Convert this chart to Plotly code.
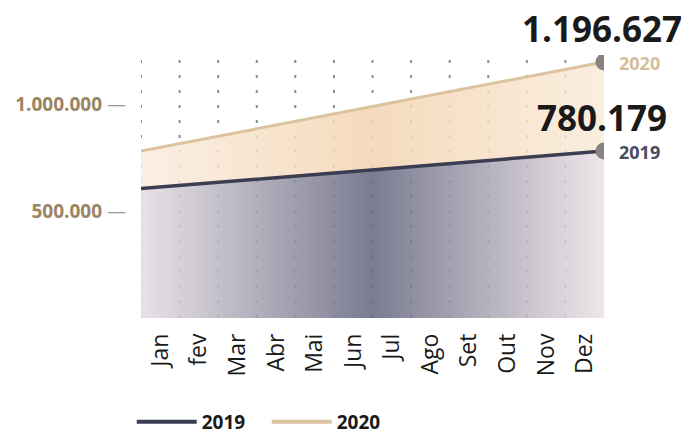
import plotly.graph_objects as go

# Meses (faixas do eixo horizontal)
months = ["Jan", "fev", "Mar", "Abr", "Mai", "Jun", "Jul", "Ago", "Set", "Out", "Nov", "Dez"]

# Valores no início de Jan e no fim de Dez
values_2019 = [605000, 780179]
values_2020 = [780179, 1196627]
years = ["2019", "2020"]

# Marcas do eixo vertical
y_ticks = [500000, 1000000]


def fmt(v):
    return f"{v:,}".replace(",", ".")


n = len(months)
x_pts = [0, n]
y_max = 1229000

NAVY = "#3b3d52"
BEIGE = "#dcc3a0"
BROWN = "#9b8464"
DOT = "#8a8280"

fig = go.Figure()

fig.add_trace(go.Scatter(
    x=x_pts, y=values_2019, name=years[0], mode="lines",
    line=dict(color=NAVY, width=3.5),
    fill="tozeroy", showlegend=False,
    fillgradient=dict(
        type="horizontal",
        colorscale=[[0, "rgba(228,220,226,0.85)"], [0.5, "rgba(104,106,130,0.88)"],
                    [1, "rgba(236,226,230,0.85)"]],
    ),
))

fig.add_trace(go.Scatter(
    x=x_pts, y=values_2020, name=years[1], mode="lines",
    line=dict(color=BEIGE, width=3),
    fill="tonexty", showlegend=False,
    fillgradient=dict(
        type="horizontal",
        colorscale=[[0, "rgba(250,236,222,0.82)"], [0.5, "rgba(243,212,176,0.85)"],
                    [1, "rgba(249,234,216,0.82)"]],
    ),
))

# Pontos finais (Dez)
fig.add_trace(go.Scatter(
    x=[x_pts[-1], x_pts[-1]], y=[values_2019[-1], values_2020[-1]],
    mode="markers", marker=dict(color=DOT, size=17), showlegend=False,
    hoverinfo="skip",
))

# Entradas de legenda só com a linha
for yr, col in [(years[0], NAVY), (years[1], BEIGE)]:
    fig.add_trace(go.Scatter(
        x=[None], y=[None], name=yr, mode="lines",
        line=dict(color=col, width=4),
    ))

annotations = []
for vals, yr, col in [(values_2019, years[0], "#4a4c60"), (values_2020, years[1], "#d6bd9b")]:
    annotations.append(dict(
        x=x_pts[-1], y=vals[-1], xref="x", yref="y",
        text=f"<b>{fmt(vals[-1])}</b>", showarrow=False,
        xanchor="center", yanchor="bottom", yshift=8, xshift=-2,
        font=dict(family="Open Sans", size=35, color="#1a1a1a"),
    ))
    annotations.append(dict(
        x=x_pts[-1], y=vals[-1], xref="x", yref="y",
        text=f"<b>{yr}</b>", showarrow=False,
        xanchor="left", yanchor="middle", xshift=13, yshift=-1,
        font=dict(family="Open Sans", size=18, color=col),
    ))

# Linhas pontilhadas no início de cada mês
grid_shapes = [
    dict(type="line", xref="x", yref="y", x0=i, x1=i, y0=0, y1=y_max,
         line=dict(color="#8c8c8c", width=2, dash="3px,12px"), layer="below")
    for i in range(n)
]

fig.update_layout(
    width=684, height=435,
    margin=dict(l=141, r=80, t=55, b=117, autoexpand=False),
    paper_bgcolor="white", plot_bgcolor="white",
    font=dict(family="Open Sans", color="#1a1a1a"),
    showlegend=True,
    legend=dict(
        orientation="h", traceorder="normal",
        x=-0.02, xanchor="left", y=-0.395, yanchor="middle",
        font=dict(family="Open Sans", size=19, color="#1a1a1a", weight="bold"),
        itemwidth=60, entrywidth=60, entrywidthmode="pixels",
        bgcolor="rgba(0,0,0,0)",
    ),
    annotations=annotations,
    shapes=grid_shapes,
)

fig.update_xaxes(
    range=[0, n],
    tickmode="array",
    tickvals=[i + 0.5 for i in range(n)],
    ticktext=months,
    tickangle=-90,
    tickfont=dict(family="Open Sans", size=23, color="#1a1a1a"),
    ticks="", showgrid=False, zeroline=False, showline=False,
    ticklabelstandoff=10,
    fixedrange=True,
)

fig.update_yaxes(
    range=[0, y_max],
    tickmode="array",
    tickvals=y_ticks,
    ticktext=[f"<b>{fmt(v)}</b> <span style='color:#999999'>—</span>" for v in y_ticks],
    tickfont=dict(family="Open Sans", size=19, color=BROWN),
    ticks="", showgrid=False, zeroline=False, showline=False,
    ticklabelstandoff=14,
    fixedrange=True,
)

fig.write_html("out.html")
